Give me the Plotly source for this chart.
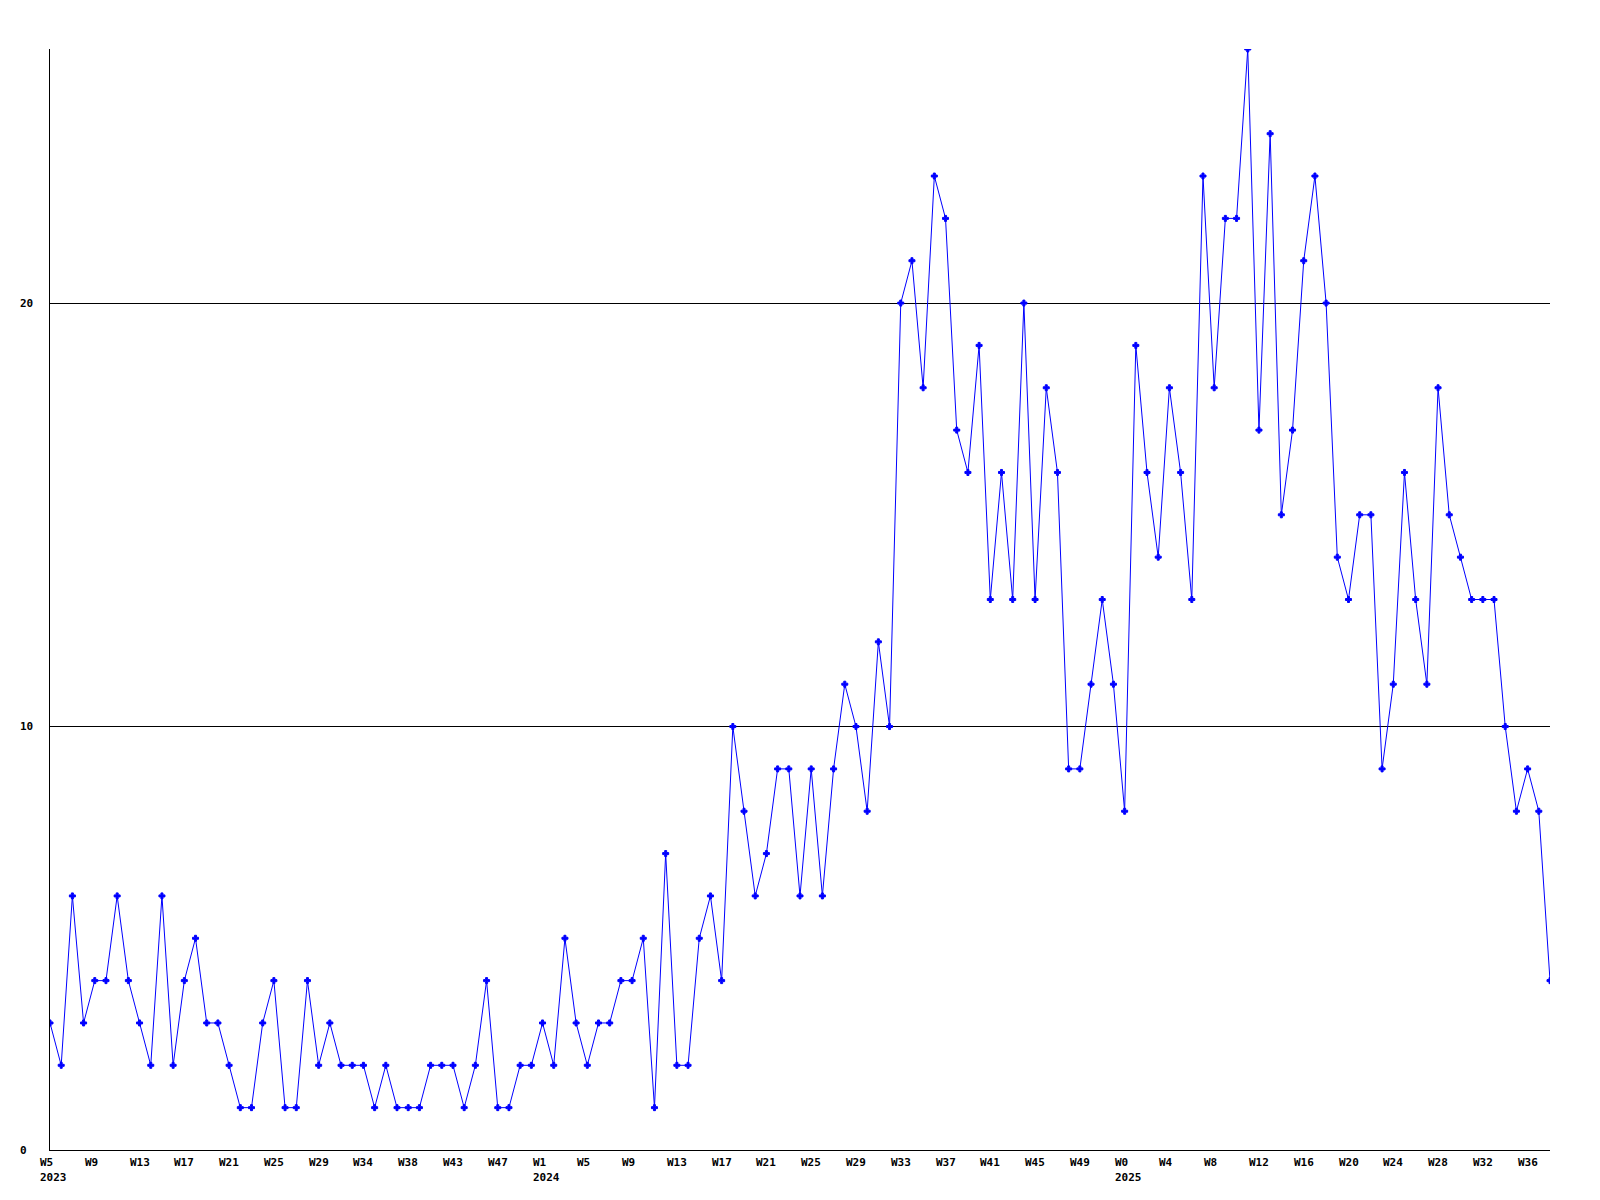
import plotly.graph_objects as go

values = [3, 2, 6, 3, 4, 4, 6, 4, 3, 2, 6, 2, 4, 5, 3, 3, 2, 1, 1, 3,
          4, 1, 1, 4, 2, 3, 2, 2, 2, 1, 2, 1, 1, 1, 2, 2, 2, 1, 2, 4,
          1, 1, 2, 2, 3, 2, 5, 3, 2, 3, 3, 4, 4, 5, 1, 7, 2, 2, 5, 6,
          4, 10, 8, 6, 7, 9, 9, 6, 9, 6, 9, 11, 10, 8, 12, 10, 20, 21, 18, 23,
          22, 17, 16, 19, 13, 16, 13, 20, 13, 18, 16, 9, 9, 11, 13, 11, 8, 19, 16, 14,
          18, 16, 13, 23, 18, 22, 22, 26, 17, 24, 15, 17, 21, 23, 20, 14, 13, 15, 15, 9,
          11, 16, 13, 11, 18, 15, 14, 13, 13, 13, 10, 8, 9, 8, 4]

tick_labels = ["W5", "W9", "W13", "W17", "W21", "W25", "W29", "W34", "W38", "W43",
               "W47", "W1", "W5", "W9", "W13", "W17", "W21", "W25", "W29", "W33",
               "W37", "W41", "W45", "W49", "W0", "W4", "W8", "W12", "W16", "W20",
               "W24", "W28", "W32", "W36"]
year_labels = ["2023", "", "", "", "", "", "", "", "", "",
               "", "2024", "", "", "", "", "", "", "", "",
               "", "", "", "", "2025", "", "", "", "", "",
               "", "", "", ""]
y_ticks = [0, 10, 20]

TICK_STEP = 4
FONT = dict(family="DejaVu Sans Mono", size=11, color="black", weight="bold")

x = list(range(len(values)))

fig = go.Figure()
fig.add_trace(go.Scatter(
    x=x, y=values, mode="lines+markers",
    line=dict(color="#0000ff", width=1),
    marker=dict(symbol="cross", size=5, color="#0000ff",
                line=dict(width=1, color="#0000ff")),
    hoverinfo="skip",
))

annotations = []
for k, lab in enumerate(tick_labels):
    xi = k * TICK_STEP
    annotations.append(dict(x=xi, y=0, xref="x", yref="paper", text=lab,
                            showarrow=False, xanchor="left", yanchor="top",
                            xshift=-12, yshift=-4, font=FONT))
    if year_labels[k]:
        annotations.append(dict(x=xi, y=0, xref="x", yref="paper", text=year_labels[k],
                                showarrow=False, xanchor="left", yanchor="top",
                                xshift=-12, yshift=-19, font=FONT))
for v in y_ticks:
    annotations.append(dict(x=0, y=v, xref="paper", yref="y", text=str(v),
                            showarrow=False, xanchor="left", yanchor="middle",
                            xshift=-32, font=FONT))

fig.update_layout(
    width=1600, height=1200,
    margin=dict(l=42, r=58, t=41, b=58),
    paper_bgcolor="white", plot_bgcolor="white",
    showlegend=False,
    annotations=annotations,
    xaxis=dict(range=[0, len(values) - 1], showgrid=False, zeroline=False,
               showline=True, linecolor="black", linewidth=1,
               showticklabels=False, ticks=""),
    yaxis=dict(range=[0, 26], tickvals=y_ticks, showgrid=True, gridcolor="black",
               gridwidth=1, zeroline=False, showline=True, linecolor="black",
               linewidth=1, showticklabels=False, ticks=""),
)

fig.write_html("out.html")
